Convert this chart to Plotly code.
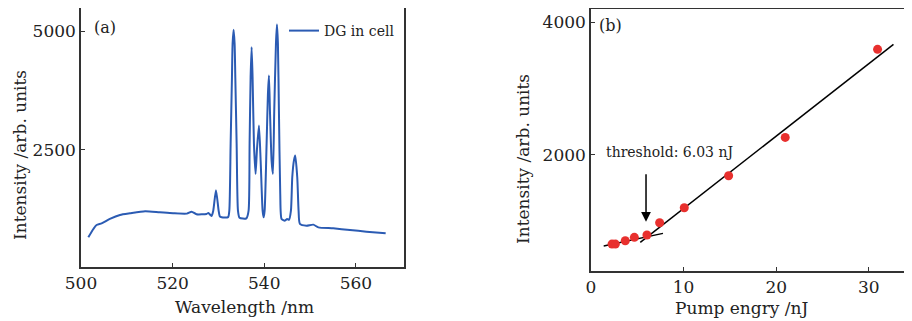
import plotly.graph_objects as go

# Panel (a): emission spectrum
wavelength = [501.6, 502.7, 503.4, 504.5, 506.3, 508.5, 510.7, 514.0, 517.2, 520.1,
              523.1, 524.15, 525.2, 527.4, 527.8, 528.5, 528.87, 529.46, 530.04, 530.3,
              530.7, 532.1, 532.37, 532.66, 532.95, 533.09, 533.31, 533.53, 533.68, 533.97,
              534.26, 534.6, 536.1, 536.58, 536.80, 537.02, 537.24, 537.45, 537.75, 538.11,
              538.4, 538.84, 539.21, 539.64, 539.86, 540.08, 540.51, 540.80, 541.02, 541.24,
              541.60, 541.89, 542.18, 542.55, 542.77, 542.98, 543.20, 543.49, 543.78, 544.5,
              545.0, 545.4, 545.82, 546.11, 546.47, 546.76, 547.2, 547.49, 547.78, 549.2,
              550.7, 551.8, 555.05, 558.7, 562.3, 566.5]
intensity = [660, 836, 920, 954, 1047, 1131, 1166, 1208, 1186, 1166,
             1159, 1200, 1145, 1152, 1170, 1110, 1222, 1650, 1222, 1100,
             1081, 1085, 1222, 2626, 4029, 4732, 5027, 4732, 4029, 2626,
             1222, 1070, 1060, 1222, 2626, 4029, 4661, 4029, 2626, 1994,
             2500, 3012, 2275, 1222, 1081, 1222, 2626, 3679, 4065, 3328,
             2275, 1994, 3328, 4732, 5139, 4732, 3328, 1573, 1047, 1011,
             1047, 1030, 1222, 1923, 2275, 2380, 1923, 1222, 942, 906,
             927, 870, 849, 815, 780, 744]

# Panel (b): pump energy dependence
pump = [2.27, 2.63, 3.7, 4.68, 6.04, 7.41, 10.07, 14.86, 20.97, 30.94]
peak_int = [653, 653, 703, 754, 789, 975, 1201, 1683, 2261, 3588]
fit_low_x = [1.37, 7.77]
fit_low_y = [623, 814]
fit_high_x = [5.32, 32.66]
fit_high_y = [678, 3663]

W, H = 912, 321
OFF = 8  # page body margin


def px(x):
    return (x - OFF) / W


def py(y):
    return (H - (y - OFF)) / H


serif = "DejaVu Serif"
axis_color = "#333333"

fig = go.Figure()
fig.add_trace(go.Scatter(x=wavelength, y=intensity, mode="lines", name="DG in cell",
                         line=dict(color="#2b5bb3", width=2, shape="spline", smoothing=0.6),
                         xaxis="x", yaxis="y", showlegend=True))
fig.add_trace(go.Scatter(x=fit_low_x, y=fit_low_y, mode="lines", line=dict(color="black", width=1.5),
                         xaxis="x2", yaxis="y2", showlegend=False))
fig.add_trace(go.Scatter(x=fit_high_x, y=fit_high_y, mode="lines", line=dict(color="black", width=1.5),
                         xaxis="x2", yaxis="y2", showlegend=False))
fig.add_trace(go.Scatter(x=pump, y=peak_int, mode="markers", marker=dict(color="#e8302e", size=9),
                         xaxis="x2", yaxis="y2", showlegend=False))

common = dict(showline=True, linecolor=axis_color, linewidth=1.5, mirror=True, automargin=False,
              ticks="inside", ticklen=4, tickcolor=axis_color, showgrid=False, zeroline=False,
              tickfont=dict(family=serif, size=17, color="#222"))

fig.update_layout(
    width=W, height=H, margin=dict(l=0, r=0, t=0, b=0, autoexpand=False),
    paper_bgcolor="white", plot_bgcolor="white",
    xaxis=dict(domain=[px(81), px(404)], range=[500, 570.5], tickvals=[500, 520, 540, 560], anchor="y", **common),
    yaxis=dict(domain=[py(267), py(8)], range=[36, 5484], tickvals=[2500, 5000], anchor="x", **common),
    xaxis2=dict(domain=[px(591), px(911)], range=[0, 34.55], tickvals=[0, 10, 20, 30], anchor="y2", **common),
    yaxis2=dict(domain=[py(271), py(9)], range=[247, 4196], tickvals=[2000, 4000], anchor="x2", **common),
    legend=dict(x=px(284), y=py(31), xanchor="left", yanchor="middle",
                font=dict(family=serif, size=14, color="#222"), bgcolor="rgba(0,0,0,0)"),
)

ann_font = dict(family=serif, size=17, color="#222")
fig.add_annotation(text="Wavelength /nm", x=px(244), y=py(307), xref="paper", yref="paper",
                   showarrow=False, font=ann_font, xanchor="center", yanchor="middle")
fig.add_annotation(text="Intensity /arb. units", x=px(8), y=py(155), xref="paper", yref="paper",
                   showarrow=False, font=ann_font, textangle=-90, xanchor="left", yanchor="middle")
fig.add_annotation(text="Pump engry /nJ", x=px(741), y=py(308), xref="paper", yref="paper",
                   showarrow=False, font=ann_font, xanchor="center", yanchor="middle")
fig.add_annotation(text="Intensity /arb. units", x=px(523), y=py(159), xref="paper", yref="paper",
                   showarrow=False, font=ann_font, textangle=-90, xanchor="center", yanchor="middle")
fig.add_annotation(text="(a)", x=px(92), y=py(27), xref="paper", yref="paper",
                   showarrow=False, font=dict(family=serif, size=16, color="#222"), xanchor="left", yanchor="middle")
fig.add_annotation(text="(b)", x=px(597), y=py(25), xref="paper", yref="paper",
                   showarrow=False, font=dict(family=serif, size=16, color="#222"), xanchor="left", yanchor="middle")
fig.add_annotation(text="threshold: 6.03 nJ", x=1.37, y=2045, xref="x2", yref="y2",
                   showarrow=False, font=dict(family=serif, size=14, color="#222"), xanchor="left", yanchor="middle")
fig.add_annotation(x=5.94, y=990, ax=5.94, ay=1729, xref="x2", yref="y2", axref="x2", ayref="y2",
                   text="", showarrow=True, arrowhead=2, arrowsize=1.3, arrowwidth=1.5, arrowcolor="black")

fig.write_html("out.html")
